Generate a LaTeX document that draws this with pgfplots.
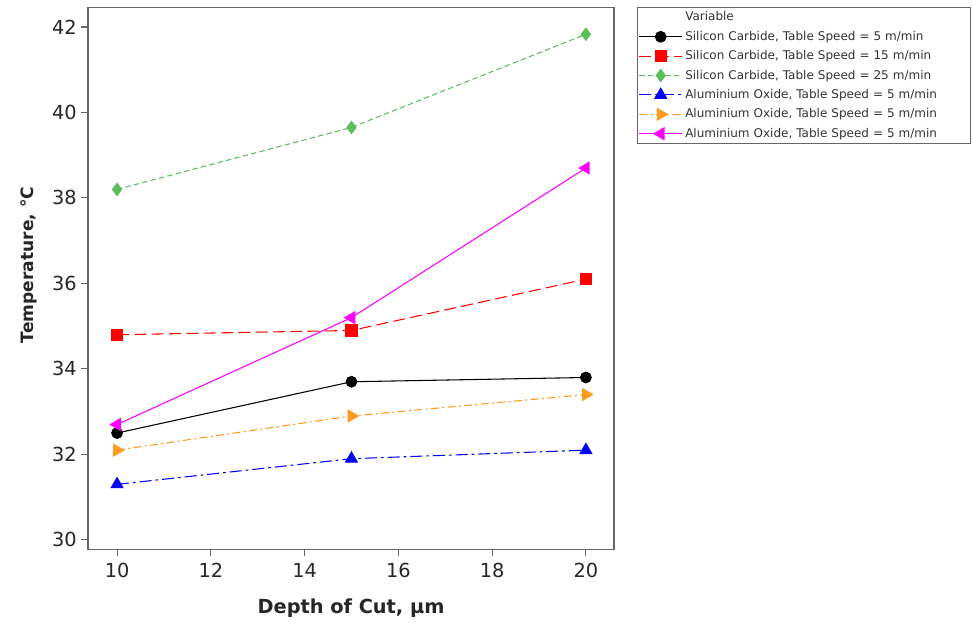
\documentclass[border=0pt]{standalone}
\usepackage{pgfplots}
\pgfplotsset{compat=1.18}
\usepackage{fontspec}
\setmainfont{DejaVu Sans}
\definecolor{cgreen}{RGB}{90,190,90}
\definecolor{corange}{RGB}{255,155,30}
\definecolor{cmagenta}{RGB}{255,0,255}
\begin{document}
\begin{tikzpicture}
\begin{axis}[
  scale only axis,
  width=394.5pt, height=406.5pt,
  xmin=9.38, xmax=20.6, ymin=29.78, ymax=42.46,
  xtick={10,12,...,20}, ytick={30,32,...,42},
  tick align=outside, tick pos=left,
  major tick length=5pt,
  axis line style={draw=black!60, line width=1pt},
  every tick/.style={black!60, line width=0.8pt},
  /pgf/number format/assume math mode=true,
  ticklabel style={font=\fontsize{14.5}{16}\selectfont, text=black!85},
  xticklabel style={yshift=-2pt},
  xlabel={Depth of Cut, µm},
  ylabel={Temperature, °C},
  xlabel style={font=\bfseries\fontsize{14.5}{16}\selectfont, text=black!85, yshift=-9pt},
  ylabel style={font=\bfseries\fontsize{12.8}{15}\selectfont, text=black!85, yshift=4pt, xshift=10pt},
  legend style={at={(rel axis cs:1.0437,1.0)}, anchor=north west,
    font=\fontsize{9}{11}\selectfont, text=black!80,
    draw=black!60, line width=0.8pt, inner sep=1pt,
    row sep=2.2pt, text width=211pt},
  legend cell align=left,
  legend image code/.code={\draw[mark repeat=2,mark phase=2, line width=0.8pt] plot coordinates {(0pt,0pt) (16pt,0pt) (32pt,0pt)};},
  clip=false,
]
\path[use as bounding box] (rel axis cs:-0.1673,-0.1303) rectangle (rel axis cs:1.6825,1.0135);
\addlegendimage{empty legend}
\addlegendentry{Variable}
\addplot[black, solid, line width=0.8pt, mark=*, mark size=4pt, mark options={solid}]
  coordinates {(10,32.5) (15,33.7) (20,33.8)};
\addlegendentry{Silicon Carbide, Table Speed = 5 m/min}
\addplot[red, dash pattern=on 9pt off 4pt, line width=0.8pt, mark=square*, mark size=4.2pt, mark options={solid}]
  coordinates {(10,34.8) (15,34.9) (20,36.1)};
\addlegendentry{Silicon Carbide, Table Speed = 15 m/min}
\addplot[cgreen, dash pattern=on 4pt off 2.5pt, line width=0.8pt, mark=diamond*, mark size=4.5pt, mark options={solid}]
  coordinates {(10,38.2) (15,39.65) (20,41.83)};
\addlegendentry{Silicon Carbide, Table Speed = 25 m/min}
\addplot[blue, dash pattern=on 9pt off 3pt on 2pt off 3pt, line width=0.8pt, mark=triangle*, mark size=5pt, mark options={solid}]
  coordinates {(10,31.3) (15,31.9) (20,32.1)};
\addlegendentry{Aluminium Oxide, Table Speed = 5 m/min}
\addplot[corange, dash pattern=on 6pt off 2.5pt on 1.5pt off 2.5pt, line width=0.8pt, mark=triangle*, mark size=5pt, mark options={solid, rotate=-90}]
  coordinates {(10,32.1) (15,32.9) (20,33.4)};
\addlegendentry{Aluminium Oxide, Table Speed = 5 m/min}
\addplot[cmagenta, solid, line width=0.8pt, mark=triangle*, mark size=5pt, mark options={solid, rotate=90}]
  coordinates {(10,32.7) (15,35.2) (20,38.7)};
\addlegendentry{Aluminium Oxide, Table Speed = 5 m/min}
\end{axis}
\end{tikzpicture}
\end{document}
